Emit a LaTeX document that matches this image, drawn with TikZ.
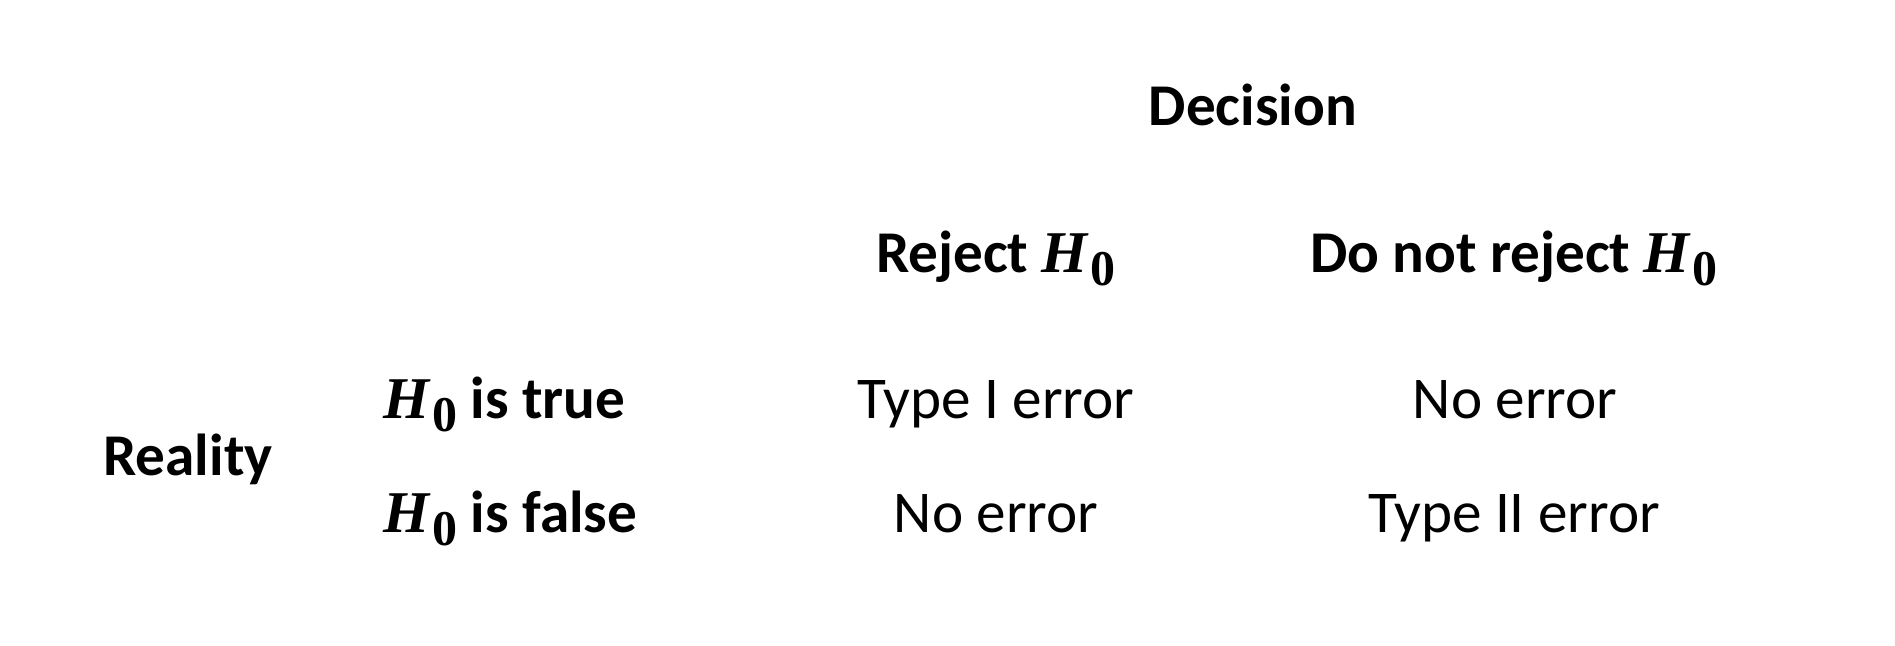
\documentclass[tikz,border=0pt]{standalone}
\usepackage{fontspec}
\setmainfont{Carlito}
\newfontfamily\hfont{Liberation Serif}
\newcommand{\Hnull}{{\hfont\bfseries\itshape H}\kern1.5pt\raisebox{-6.5pt}{\hfont\bfseries\fontsize{25}{25}\selectfont 0}}
\begin{document}
\begin{tikzpicture}[x=1pt,y=1pt,
  txt/.style={inner sep=0pt,anchor=base,font=\fontsize{29.6}{34}\selectfont},
  head/.style={txt,font=\fontsize{29.6}{34}\selectfont\bfseries},
  rowhead/.style={head,anchor=base west}]
\useasboundingbox (0,0) rectangle (947.5,322.5);
\node[head] (decision) at (626.5,260) {Decision};
\node[head] (reject) at (498,186.5) {Reject \Hnull};
\node[head] (notreject) at (757,186.5) {Do not reject \Hnull};
\node[rowhead] (htrue) at (191.5,113.5) {\Hnull{} is true};
\node[rowhead] (hfalse) at (191.5,56.5) {\Hnull{} is false};
\node[rowhead] (reality) at (51.5,85) {Reality};
\node[txt] (c11) at (498,113.5) {Type I error};
\node[txt] (c12) at (757.5,113.5) {No error};
\node[txt] (c21) at (498,56.5) {No error};
\node[txt] (c22) at (757,56.5) {Type II error};
\end{tikzpicture}
\end{document}
